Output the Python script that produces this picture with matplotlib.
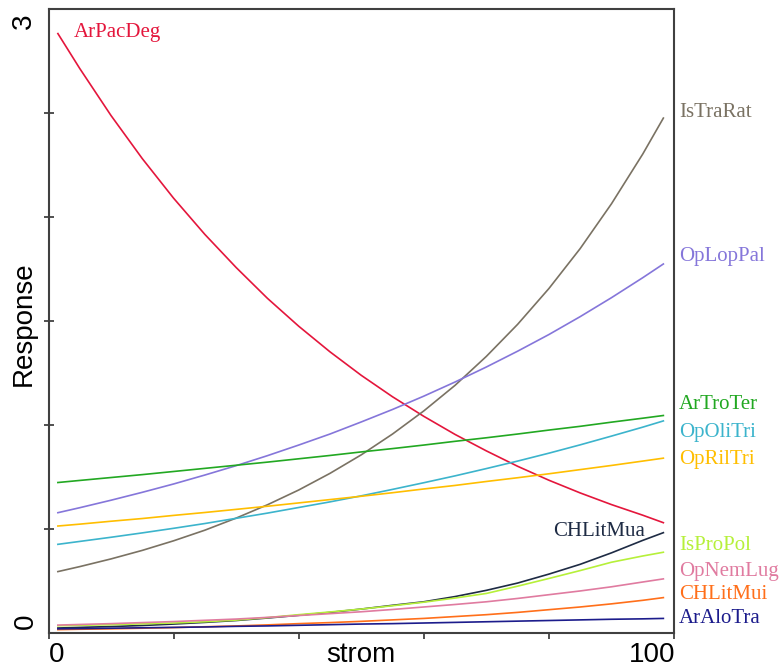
import matplotlib
matplotlib.use("Agg")
import matplotlib.pyplot as plt

strom = [1.5, 5, 10, 15, 20, 25, 30, 35, 40, 45, 50,
         55, 60, 65, 70, 75, 80, 85, 90, 95, 98.3]

# fitted responses per species
ArPacDeg = [2.88, 2.712, 2.486, 2.279, 2.089, 1.915, 1.756, 1.608, 1.474, 1.351, 1.238,
            1.135, 1.041, 0.954, 0.875, 0.801, 0.734, 0.673, 0.617, 0.566, 0.53]
IsTraRat = [0.295, 0.319, 0.356, 0.397, 0.443, 0.494, 0.552, 0.616, 0.687, 0.767, 0.856,
            0.956, 1.067, 1.190, 1.329, 1.483, 1.655, 1.847, 2.062, 2.301, 2.474]
OpLopPal = [0.578, 0.602, 0.638, 0.676, 0.716, 0.759, 0.804, 0.852, 0.903, 0.956, 1.014,
            1.074, 1.138, 1.206, 1.278, 1.354, 1.434, 1.520, 1.611, 1.707, 1.773]
ArTroTer = [0.723, 0.733, 0.747, 0.761, 0.776, 0.791, 0.806, 0.821, 0.837, 0.853, 0.870,
            0.886, 0.903, 0.921, 0.938, 0.956, 0.975, 0.993, 1.013, 1.032, 1.045]
OpOliTri = [0.426, 0.440, 0.460, 0.481, 0.503, 0.526, 0.551, 0.576, 0.603, 0.630, 0.659,
            0.690, 0.722, 0.755, 0.790, 0.826, 0.864, 0.904, 0.946, 0.989, 1.019]
OpRilTri = [0.514, 0.523, 0.537, 0.550, 0.565, 0.579, 0.594, 0.609, 0.625, 0.641, 0.657,
            0.674, 0.692, 0.709, 0.728, 0.746, 0.765, 0.785, 0.805, 0.826, 0.840]
CHLitMua = [0.024, 0.027, 0.031, 0.036, 0.043, 0.051, 0.060, 0.072, 0.085, 0.099, 0.115,
            0.133, 0.150, 0.175, 0.205, 0.240, 0.283, 0.330, 0.385, 0.445, 0.482]
IsProPol = [0.035, 0.037, 0.040, 0.044, 0.048, 0.054, 0.062, 0.074, 0.088, 0.101, 0.115,
            0.131, 0.148, 0.168, 0.190, 0.225, 0.262, 0.300, 0.340, 0.370, 0.388]
OpNemLug = [0.038, 0.041, 0.045, 0.050, 0.055, 0.061, 0.067, 0.075, 0.084, 0.093, 0.102,
            0.113, 0.125, 0.137, 0.150, 0.166, 0.184, 0.202, 0.222, 0.245, 0.260]
CHLitMui = [0.016, 0.018, 0.020, 0.023, 0.026, 0.030, 0.034, 0.039, 0.045, 0.050, 0.056,
            0.063, 0.070, 0.079, 0.088, 0.099, 0.112, 0.125, 0.140, 0.157, 0.170]
ArAloTra = [0.020, 0.021, 0.023, 0.025, 0.027, 0.029, 0.032, 0.034, 0.037, 0.040, 0.043,
            0.045, 0.048, 0.051, 0.054, 0.057, 0.060, 0.063, 0.066, 0.068, 0.070]

species = {
    "ArPacDeg": ArPacDeg, "IsTraRat": IsTraRat, "OpLopPal": OpLopPal,
    "ArTroTer": ArTroTer, "OpOliTri": OpOliTri, "OpRilTri": OpRilTri,
    "CHLitMua": CHLitMua, "IsProPol": IsProPol, "OpNemLug": OpNemLug,
    "CHLitMui": CHLitMui, "ArAloTra": ArAloTra,
}

colors = {
    "ArPacDeg": "#E4163C", "IsTraRat": "#7A7263", "OpLopPal": "#8576DA",
    "ArTroTer": "#22A822", "OpOliTri": "#3CB4CC", "OpRilTri": "#FFBE00",
    "CHLitMua": "#1E2B44", "IsProPol": "#B6F03A", "OpNemLug": "#E07BA0",
    "CHLitMui": "#FF6F1A", "ArAloTra": "#1C1C8C",
}

# where each name sits (data coords) and how it is aligned
label_pos = {
    "ArPacDeg": (4.1, 2.885, "left"),
    "IsTraRat": (100.8, 2.50, "left"),
    "OpLopPal": (100.8, 1.81, "left"),
    "ArTroTer": (100.8, 1.096, "left"),
    "OpOliTri": (100.8, 0.965, "left"),
    "OpRilTri": (100.8, 0.835, "left"),
    "CHLitMua": (95.4, 0.487, "right"),
    "IsProPol": (100.8, 0.420, "left"),
    "OpNemLug": (100.8, 0.295, "left"),
    "CHLitMui": (100.8, 0.183, "left"),
    "ArAloTra": (100.8, 0.071, "left"),
}

plt.rcParams["font.family"] = ["Liberation Sans", "DejaVu Sans"]

fig = plt.figure(figsize=(7.83, 6.68), dpi=100)
ax = fig.add_axes([48.5 / 783, 35 / 668, 625.5 / 783, 624.4 / 668])

for name, vals in species.items():
    ax.plot(strom, vals, color=colors[name], lw=1.2)
    lx, ly, ha = label_pos[name]
    ax.text(lx, ly, name, color=colors[name], ha=ha, va="center",
            family="Liberation Serif", fontsize=15, clip_on=False)

ax.set_xlim(0, 100)
ax.set_ylim(0, 3)

for sp in ax.spines.values():
    sp.set_color("#404040")
    sp.set_linewidth(1.5)

ax.set_yticks([0.5, 1.0, 1.5, 2.0, 2.5])
ax.set_yticklabels([])
ax.tick_params(axis="y", direction="inout", length=6.5, width=1.1, color="#202020")
ax.set_xticks([0, 20, 40, 60, 80, 100])
ax.set_xticklabels([])
ax.tick_params(axis="x", direction="out", length=4.5, width=1.1, color="#202020")

# axis annotations, R-style placement
fig.text(26 / 783, 1 - 621 / 668, "0", rotation=90, ha="center", va="center", fontsize=20)
fig.text(24 / 783, 1 - 21 / 668, "3", rotation=90, ha="center", va="center", fontsize=20)
fig.text(24 / 783, 1 - 323.5 / 668, "Response", rotation=90, ha="center", va="center", fontsize=20)
fig.text(49 / 783, 0.5 / 668, "0", ha="left", va="bottom", fontsize=20)
fig.text(675 / 783, 0.5 / 668, "100", ha="right", va="bottom", fontsize=20)
fig.text(361 / 783, 0.5 / 668, "strom", ha="center", va="bottom", fontsize=20)

fig.savefig("out.png", dpi=100)
